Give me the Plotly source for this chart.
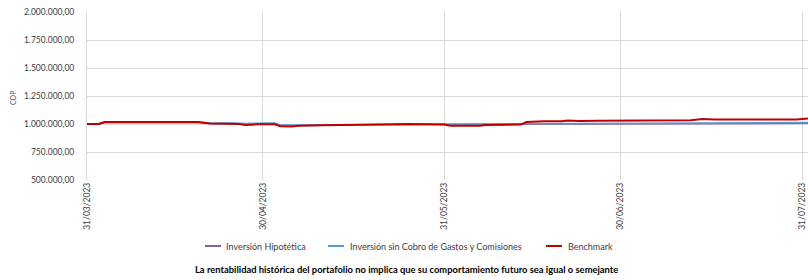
import plotly.graph_objects as go

# ---- data ----
bench_dates = ["2023-03-31", "2023-04-02", "2023-04-03", "2023-04-08", "2023-04-10", "2023-04-12",
               "2023-04-19", "2023-04-21", "2023-04-24", "2023-04-26", "2023-04-27", "2023-04-29",
               "2023-05-02", "2023-05-03", "2023-05-05", "2023-05-06", "2023-05-10", "2023-05-20",
               "2023-05-25", "2023-05-31", "2023-06-01", "2023-06-06", "2023-06-07", "2023-06-13",
               "2023-06-14", "2023-06-17", "2023-06-20", "2023-06-21", "2023-06-23", "2023-06-26",
               "2023-07-05", "2023-07-07", "2023-07-08", "2023-07-12", "2023-07-14", "2023-07-16",
               "2023-07-30", "2023-08-01"]
bench_vals = [1000000, 1000000, 1017000, 1018000, 1013000, 1019000,
              1018000, 1005000, 1006000, 1000000, 991000, 997000,
              998000, 980000, 978000, 985000, 988000, 998000,
              1000000, 996000, 984000, 985000, 992000, 995000,
              1017000, 1025000, 1024000, 1031000, 1026000, 1030000,
              1030000, 1027000, 1032000, 1033000, 1044000, 1040000,
              1040000, 1050000]

net_dates = ["2023-03-31", "2023-04-02", "2023-04-03", "2023-04-19", "2023-04-21", "2023-04-24",
             "2023-04-27", "2023-04-30", "2023-05-02", "2023-05-03", "2023-05-06", "2023-05-20",
             "2023-05-31", "2023-06-13", "2023-06-14", "2023-07-14", "2023-07-16", "2023-08-01"]
net_vals = [1000000, 1000000, 1014000, 1015000, 1006000, 1010000,
            1005000, 1008000, 1008000, 990000, 988000, 996000,
            998000, 1000000, 1004000, 1006000, 1012000, 1014000]

hyp_dates = ["2023-03-31", "2023-04-02", "2023-04-03", "2023-04-19", "2023-04-21", "2023-04-24",
             "2023-04-27", "2023-04-30", "2023-05-02", "2023-05-03", "2023-05-06", "2023-05-20",
             "2023-05-31", "2023-06-13", "2023-06-14", "2023-07-14", "2023-07-16", "2023-08-01"]
hyp_vals = [1000000, 1000000, 1013000, 1013000, 1004000, 1007000,
            1002000, 1005000, 1005000, 988000, 986000, 993000,
            995000, 996000, 1000000, 1001000, 1006000, 1007000]

tick_dates = ["2023-03-31", "2023-04-30", "2023-05-31", "2023-06-30", "2023-07-31"]
tick_labels = ["31/03/2023", "30/04/2023", "31/05/2023", "30/06/2023", "31/07/2023"]

series_names = ["Inversión Hipotética", "Inversión sin Cobro de Gastos y Comisiones", "Benchmark"]
colors = ["#8064A2", "#5B9BD5", "#C00000"]

FONT = "Lato, 'Open Sans', sans-serif"

fig = go.Figure()
fig.add_trace(go.Scatter(x=hyp_dates, y=hyp_vals, mode="lines", name=series_names[0],
                         line=dict(color=colors[0], width=1.5)))
fig.add_trace(go.Scatter(x=net_dates, y=net_vals, mode="lines", name=series_names[1],
                         line=dict(color=colors[1], width=1.5)))
fig.add_trace(go.Scatter(x=bench_dates, y=bench_vals, mode="lines", name=series_names[2],
                         line=dict(color=colors[2], width=2)))

W, H = 808, 280
L, R, T, B = 87, 0, 12, 100
pw, ph = W - L - R, H - T - B

def px_x(x):
    return (x - L) / pw

def px_y(y):
    return (H - B - y) / ph

shapes = []
annotations = []
# custom legend
legend_items = [(205, 221, 224), (328, 344, 348), (546, 562, 566)]
ly = 246
for (x0, x1, xt), name, c in zip(legend_items, series_names, colors):
    shapes.append(dict(type="line", xref="paper", yref="paper",
                       x0=px_x(x0), x1=px_x(x1), y0=px_y(ly), y1=px_y(ly),
                       line=dict(color=c, width=2)))
    annotations.append(dict(text=name, xref="paper", yref="paper", x=px_x(xt), y=px_y(ly),
                            xanchor="left", yanchor="middle", showarrow=False,
                            font=dict(family=FONT, size=9, color="#404040")))

annotations.append(dict(text="<b>La rentabilidad histórica del portafolio no implica que su comportamiento futuro sea igual o semejante</b>",
                        xref="paper", yref="paper", x=px_x(406), y=px_y(269),
                        xanchor="center", yanchor="middle", showarrow=False,
                        font=dict(family=FONT, size=9.4, color="#000000")))
annotations.append(dict(text="COP", xref="paper", yref="paper", x=px_x(13), y=px_y(98),
                        xanchor="center", yanchor="middle", showarrow=False, textangle=-90,
                        font=dict(family=FONT, size=7, color="#44546A")))

fig.update_layout(
    width=W, height=H,
    margin=dict(l=L, r=R, t=T, b=B, pad=0),
    paper_bgcolor="white", plot_bgcolor="white",
    separators=",.",
    showlegend=False,
    shapes=shapes,
    annotations=annotations,
    font=dict(family=FONT, size=8.5, color="#404040"),
)
fig.update_xaxes(
    type="date", range=["2023-03-31", "2023-08-01"],
    tickvals=tick_dates, ticktext=tick_labels, tickangle=-90,
    showgrid=True, gridcolor="#D9D9D9", gridwidth=1,
    showline=False, zeroline=False, ticks="",
    tickfont=dict(family=FONT, size=8.5, color="#404040"),
)
fig.update_yaxes(
    range=[500000, 2000000], dtick=250000, tick0=500000, tickformat=",.2f",
    showgrid=True, gridcolor="#D9D9D9", gridwidth=1,
    showline=True, linecolor="#D9D9D9", linewidth=1,
    zeroline=False, ticks="", ticklabelstandoff=10,
    tickfont=dict(family=FONT, size=8.5, color="#404040"),
)

fig.write_html("out.html", config={"displayModeBar": False},
               post_script="document.body.style.margin='0px';document.body.style.overflow='hidden';")
